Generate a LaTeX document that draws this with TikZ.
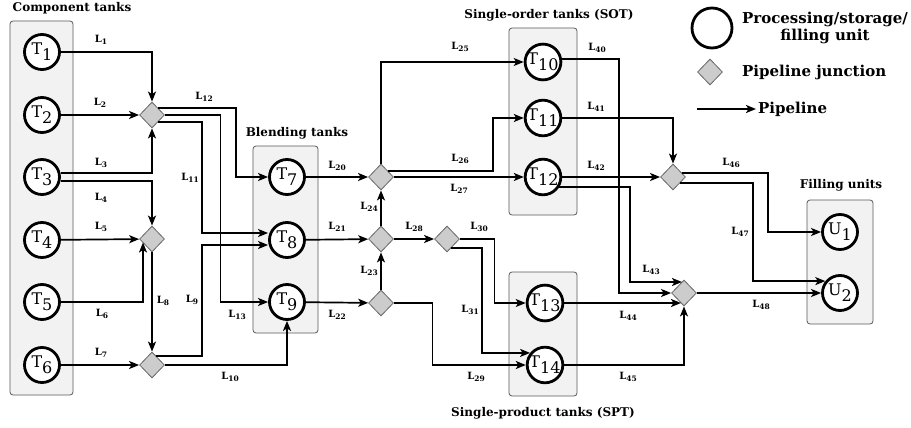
\documentclass[tikz,border=0pt]{standalone}
\usepackage{fontspec}
\setmainfont{DejaVu Serif}
\usetikzlibrary{arrows.meta,shapes.geometric,calc}

\newcommand{\tname}[2]{#1\raisebox{-6pt}{#2}}
\newcommand{\lname}[1]{L\raisebox{-2.5pt}{\fontsize{7.5}{8}\selectfont#1}}

\begin{document}
\begin{tikzpicture}[x=1pt, y=-1pt,
    tank/.style={circle, draw, line width=2.8pt, fill=white, minimum size=35pt, inner sep=0pt, font=\fontsize{16}{16}\selectfont},
    junction/.style={diamond, draw=black!60, fill=black!20, line width=0.8pt, minimum width=25pt, minimum height=26pt, inner sep=0pt},
    pipe/.style={line width=1.7pt, -{Stealth[length=10pt,width=8pt,inset=2.5pt]}},
    group/.style={draw=black!65, fill=black!5, line width=0.8pt, rounded corners=3pt},
    grouptitle/.style={font=\bfseries\fontsize{12}{14}\selectfont},
    legendtext/.style={font=\bfseries\fontsize{15}{17}\selectfont, inner sep=2pt},
    lbl/.style={font=\bfseries\fontsize{10}{11}\selectfont, inner sep=0pt},
  ]
  \useasboundingbox (0,0) rectangle (911,428);

  % === Group boxes ===
  \draw[group] (10,21) rectangle (73,395);
  \draw[group] (253,146) rectangle (318,333);
  \draw[group] (509,28) rectangle (577,215);
  \draw[group] (509,272) rectangle (577,396);
  \draw[group] (807,200) rectangle (873,324);

  \node[grouptitle] (tcomp)  at (72,8)    {Component tanks};
  \node[grouptitle] (tblend) at (297,133) {Blending tanks};
  \node[grouptitle] (tsot)   at (549,15)  {Single-order tanks (SOT)};
  \node[grouptitle] (tspt)   at (543,413) {Single-product tanks (SPT)};
  \node[grouptitle] (tfill)  at (841,185) {Filling units};

  % === Tanks and units ===
  \node[tank] (T1) at (42,52)  {\tname{T}{1}};
  \node[tank] (T2) at (42,115) {\tname{T}{2}};
  \node[tank] (T3) at (42,177) {\tname{T}{3}};
  \node[tank] (T4) at (42,240) {\tname{T}{4}};
  \node[tank] (T5) at (42,302) {\tname{T}{5}};
  \node[tank] (T6) at (42,365) {\tname{T}{6}};

  \node[tank] (T7) at (287,177) {\tname{T}{7}};
  \node[tank] (T8) at (287,240) {\tname{T}{8}};
  \node[tank] (T9) at (287,302) {\tname{T}{9}};

  \node[tank] (T10) at (543,62)  {\tname{T}{10}};
  \node[tank] (T11) at (543,118) {\tname{T}{11}};
  \node[tank] (T12) at (543,177) {\tname{T}{12}};
  \node[tank] (T13) at (545,303) {\tname{T}{13}};
  \node[tank] (T14) at (545,365) {\tname{T}{14}};

  \node[tank] (U1) at (840,232) {\tname{U}{1}};
  \node[tank] (U2) at (840,293) {\tname{U}{2}};

  % === Junctions ===
  \node[junction] (J1) at (152,115) {};
  \node[junction] (J2) at (152,239) {};
  \node[junction] (J3) at (152,365) {};
  \node[junction] (J4) at (381,177) {};
  \node[junction] (J5) at (381,239) {};
  \node[junction] (J6) at (381,303) {};
  \node[junction] (J7) at (447,239) {};
  \node[junction] (J8) at (684,293) {};
  \node[junction] (J9) at (673,177) {};

  % === Component tanks to first junctions ===
  \draw[pipe] (T1) -| (J1);
  \draw[pipe] (T2) -- (J1);
  \draw[pipe] ([yshift=4pt]T3.east) -| (J1);
  \draw[pipe] ([yshift=-4pt]T3.east) -| (J2);
  \draw[pipe] (T4) -- (J2);
  \draw[pipe] (T5) -| ($(J2)+(-9,3.5)$);
  \draw[pipe] (T6) -- (J3);
  \draw[pipe] (J2) -- (J3);

  % === Into blending tanks ===
  \draw[pipe] ($(J1)+(5.5,-7)$) -- ++(78.5,0) |- (T7);
  \draw[pipe] ($(J1)+(5.5,7)$) -- ++(44.5,0) |- ([yshift=7pt]T8.west);
  \draw[pipe] (J1.east) -- ++(55.5,0) |- (T9);
  \draw[pipe] ($(J3)+(3.5,-9)$) -- ++(46.5,0) |- ([yshift=-5pt]T8.west);
  \draw[pipe] (J3) -| (T9);

  % === Blending tanks to middle junctions ===
  \draw[pipe] (T7) -- (J4);
  \draw[pipe] (T8) -- (J5);
  \draw[pipe] (T9) -- (J6);
  \draw[pipe] (J6) -- (J5);
  \draw[pipe] (J5) -- (J4);
  \draw[pipe] (J5) -- (J7);

  % === Into SOT and SPT ===
  \draw[pipe] (J4) |- (T10);
  \draw[pipe] ($(J4)+(6.5,-6)$) -- ++(105.5,0) |- (T11);
  \draw[pipe] (J4) -- (T12);
  \draw[pipe] (J7.east) -- ++(34.5,0) |- (T13);
  \draw[pipe] ($(J7)+(3.5,9)$) -- ++(31.5,0) |- (T14.141);
  \draw[pipe] (J6.east) -- ++(38.5,0) |- (T14);

  % === SOT and SPT to last junctions ===
  \draw[pipe] ([yshift=3pt]T10.east) -- ++(57,0) |- (J8);
  \draw[pipe] (T11) -| (J9);
  \draw[pipe] (T12) -- (J9);
  \draw[pipe] (T12.-32) -- ++(71,0) |- ($(J8)+(-2,-11)$);
  \draw[pipe] (T13) -- ($(J8)+(-3,10)$);
  \draw[pipe] (T14) -| (J8);

  % === Into filling units ===
  \draw[pipe] ($(J9)+(8.5,-4)$) -- ++(86.5,0) |- (U1);
  \draw[pipe] ($(J9)+(6.5,6)$) -- ++(73.5,0) |- (U2.141);
  \draw[pipe] (J8) -- (U2);

  % === Pipeline labels ===
  \node[lbl] (l1)  at (101,40)  {\lname{1}};
  \node[lbl] (l2)  at (100,103) {\lname{2}};
  \node[lbl] (l3)  at (101,163) {\lname{3}};
  \node[lbl] (l4)  at (101,198) {\lname{4}};
  \node[lbl] (l5)  at (101,227) {\lname{5}};
  \node[lbl] (l6)  at (102,314) {\lname{6}};
  \node[lbl] (l7)  at (101,353) {\lname{7}};
  \node[lbl] (l8)  at (163,301) {\lname{8}};
  \node[lbl] (l9)  at (192,300) {\lname{9}};
  \node[lbl] (l10) at (230,377) {\lname{10}};
  \node[lbl] (l11) at (190,178) {\lname{11}};
  \node[lbl] (l12) at (204,97)  {\lname{12}};
  \node[lbl] (l13) at (237,315) {\lname{13}};
  \node[lbl] (l20) at (337,166) {\lname{20}};
  \node[lbl] (l21) at (337,227) {\lname{21}};
  \node[lbl] (l22) at (337,315) {\lname{22}};
  \node[lbl] (l23) at (369,271) {\lname{23}};
  \node[lbl] (l24) at (369,207) {\lname{24}};
  \node[lbl] (l25) at (460,47)  {\lname{25}};
  \node[lbl] (l26) at (460,159) {\lname{26}};
  \node[lbl] (l27) at (459,189) {\lname{27}};
  \node[lbl] (l28) at (414,227) {\lname{28}};
  \node[lbl] (l29) at (476,377) {\lname{29}};
  \node[lbl] (l30) at (479,227) {\lname{30}};
  \node[lbl] (l31) at (470,310) {\lname{31}};
  \node[lbl] (l40) at (597,48)  {\lname{40}};
  \node[lbl] (l41) at (596,107) {\lname{41}};
  \node[lbl] (l42) at (596,166) {\lname{42}};
  \node[lbl] (l43) at (651,270) {\lname{43}};
  \node[lbl] (l44) at (628,316) {\lname{44}};
  \node[lbl] (l45) at (628,377) {\lname{45}};
  \node[lbl] (l46) at (731,163) {\lname{46}};
  \node[lbl] (l47) at (740,232) {\lname{47}};
  \node[lbl] (l48) at (761,305) {\lname{48}};

  % === Legend ===
  \node[tank, minimum size=40pt] (legunit) at (712,28) {};
  \node[legendtext, align=center] (legunittxt) at (825,28) {Processing/storage/\\filling unit};
  \node[junction] (legjunc) at (710,72) {};
  \node[legendtext, anchor=west] (legjunctxt) at (740,72) {Pipeline junction};
  \coordinate (legpipe) at (697,109);
  \node[legendtext, anchor=west] (legpipetxt) at (756,109) {Pipeline};
  \draw[pipe] (legpipe) -- (legpipetxt.west);

\end{tikzpicture}
\end{document}
